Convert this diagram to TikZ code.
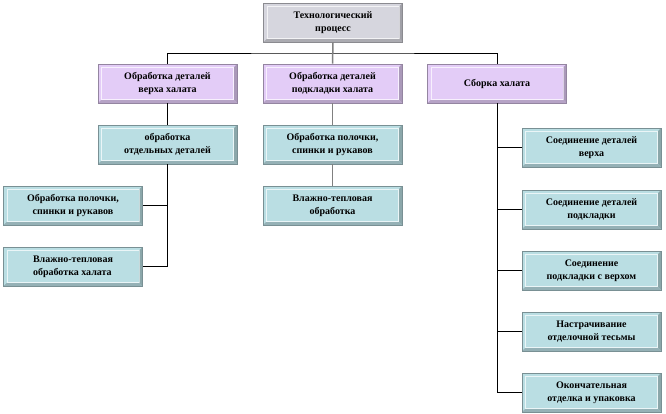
\documentclass[tikz,border=0pt]{standalone}
\usepackage{fontspec}
\setmainfont{Liberation Serif}
\definecolor{grayb}{HTML}{D6D6DE}
\definecolor{purb}{HTML}{E3CCF7}
\definecolor{tealb}{HTML}{BADEE3}
\tikzset{
 bx/.style={minimum width=139pt,minimum height=39pt,inner sep=2pt,align=center,font=\bfseries\fontsize{10}{13}\selectfont,draw=#1!65!black,line width=0.6pt,fill=#1,
   path picture={\draw[white!70!#1,line width=0.8pt] ([shift={(3.5pt,3.5pt)}]path picture bounding box.south west) rectangle ([shift={(-3.5pt,-3.5pt)}]path picture bounding box.north east);
   \fill[#1!75!black] (path picture bounding box.south east) -- (path picture bounding box.north east) -- ([shift={(-3pt,-3pt)}]path picture bounding box.north east) -- ([shift={(-3pt,3pt)}]path picture bounding box.south east) -- cycle;
   \fill[#1!80!black] (path picture bounding box.south west) -- (path picture bounding box.south east) -- ([shift={(-3pt,3pt)}]path picture bounding box.south east) -- ([shift={(3pt,3pt)}]path picture bounding box.south west) -- cycle;}},
 ln/.style={line width=0.9pt,black},
 gl/.style={line width=1.5pt,gray}
}
\begin{document}
\begin{tikzpicture}[x=1pt,y=-1pt]
\useasboundingbox (0,0) rectangle (666,413);
\node[bx=grayb] (top) at (333,22.5) {Технологический\\процесс};
\node[bx=purb] (a) at (167.5,83.5) {Обработка деталей\\верха халата};
\node[bx=purb] (b) at (332.5,83.5) {Обработка деталей\\подкладки халата};
\node[bx=purb] (c) at (497,83.5) {Сборка халата};
\node[bx=tealb] (a1) at (167.5,144.5) {обработка\\отдельных деталей};
\node[bx=tealb] (a2) at (73,205.5) {Обработка полочки,\\спинки и рукавов};
\node[bx=tealb,align=left] (a3) at (73,266.5) {Влажно-тепловая\\обработка халата};
\node[bx=tealb] (b1) at (332.5,144.5) {Обработка полочки,\\спинки и рукавов};
\node[bx=tealb] (b2) at (332.5,205.5) {Влажно-тепловая\\обработка};
\node[bx=tealb] (c1) at (591.5,147.5) {Соединение деталей\\верха};
\node[bx=tealb] (c2) at (591.5,209.5) {Соединение деталей\\подкладки};
\node[bx=tealb] (c3) at (591.5,270.5) {Соединение\\подкладки с верхом};
\node[bx=tealb] (c4) at (591.5,331.5) {Настрачивание\\отделочной тесьмы};
\node[bx=tealb] (c5) at (591.5,392.5) {Окончательная\\отделка и упаковка};
\coordinate (j) at (333,53);
\draw[ln] (a.north) |- (j) -| (c.north);
\draw[gl] (top.south) -- (b.north);
\draw[ln] (a) -- (a1);
\draw[gl] (b) -- (b1);
\draw[gl] (b1) -- (b2);
\draw[ln] (a1.south) |- (a2.east);
\draw[ln] (a1.south) |- (a3.east);
\foreach \n in {c1,c2,c3,c4,c5}{\draw[ln] (c.south) |- (\n.west);}
\end{tikzpicture}
\end{document}
